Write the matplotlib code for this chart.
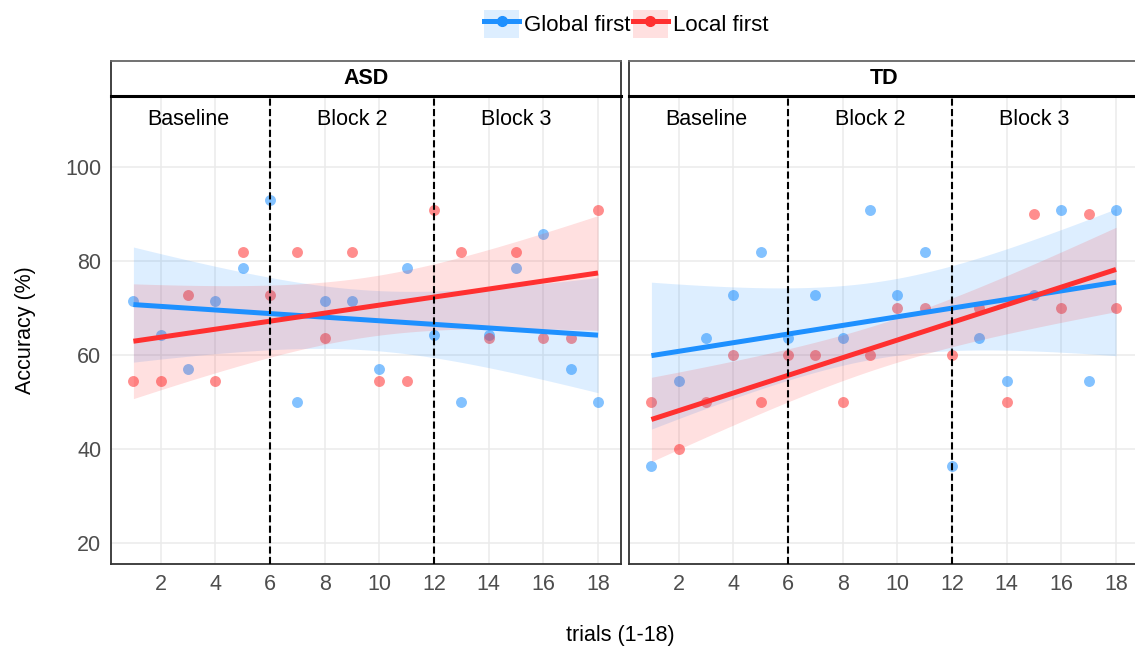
import numpy as np
import matplotlib
matplotlib.use("Agg")
import matplotlib.pyplot as plt
from matplotlib.patches import Patch
from matplotlib.lines import Line2D
from matplotlib.legend_handler import HandlerTuple

plt.rcParams['font.family'] = ['Liberation Sans', 'DejaVu Sans']

trials = list(range(1, 19))
panels = ["ASD", "TD"]
groups = ["Global first", "Local first"]
asd_global = [71.4, 64.3, 57.1, 71.4, 78.6, 92.9, 50.0, 71.4, 71.4,
              57.1, 78.6, 64.3, 50.0, 64.3, 78.6, 85.7, 57.1, 50.0]
asd_local = [54.5, 54.5, 72.7, 54.5, 81.8, 72.7, 81.8, 63.6, 81.8,
             54.5, 54.5, 90.9, 81.8, 63.6, 81.8, 63.6, 63.6, 90.9]
td_global = [36.4, 54.5, 63.6, 72.7, 81.8, 63.6, 72.7, 63.6, 90.9,
             72.7, 81.8, 36.4, 63.6, 54.5, 72.7, 90.9, 54.5, 90.9]
td_local = [50, 40, 50, 60, 50, 60, 60, 50, 60,
            70, 70, 60, 70, 50, 90, 70, 90, 70]
block_bounds = [6, 12]
block_labels = ["Baseline", "Block 2", "Block 3"]
block_label_x = [3, 9, 15]
yticks = [20, 40, 60, 80, 100]
xticks = [2, 4, 6, 8, 10, 12, 14, 16, 18]

data = {"ASD": [asd_global, asd_local], "TD": [td_global, td_local]}
line_colors = ["#1E90FF", "#FF3030"]
T975_DF16 = 2.1199  # t quantile for 95% CI with n-2 = 16 df

W, H = 1135, 649
fig = plt.figure(figsize=(W / 100, H / 100), dpi=100)

def fx(px):
    return px / W

def fy(py):
    return 1 - py / H

panel_left = [111, 629]
panel_w = 510
top_px, bot_px = 96, 564
strip_top = 61

xlim = (0.18, 18.84)
ylim = (15.5, 115.1)

for i, name in enumerate(panels):
    ax = fig.add_axes([fx(panel_left[i]), fy(bot_px), panel_w / W, (bot_px - top_px) / H])
    ax.set_xlim(*xlim)
    ax.set_ylim(*ylim)
    ax.set_xticks(xticks)
    ax.set_yticks(yticks)
    ax.grid(True, color="#EBEBEB", lw=1.1)
    ax.set_axisbelow(True)
    ax.tick_params(length=0, labelsize=15.5, colors="#4D4D4D", pad=7)
    if i == 1:
        ax.set_yticklabels([])
    for s in ["left", "bottom", "right"]:
        ax.spines[s].set_color("#333333")
        ax.spines[s].set_linewidth(1.3)
    ax.spines["top"].set_visible(False)

    x = np.array(trials, dtype=float)
    # points
    for g, vals in enumerate(data[name]):
        ax.scatter(x, vals, s=62, color=line_colors[g], alpha=0.55, lw=0, zorder=2)
    # fits
    xs = np.linspace(1, 18, 80)
    fits = []
    for g, vals in enumerate(data[name]):
        y = np.array(vals, dtype=float)
        n = len(x)
        b, a = np.polyfit(x, y, 1)
        resid = y - (a + b * x)
        s = np.sqrt(np.sum(resid ** 2) / (n - 2))
        sxx = np.sum((x - x.mean()) ** 2)
        yhat = a + b * xs
        se = s * np.sqrt(1 / n + (xs - x.mean()) ** 2 / sxx)
        ax.fill_between(xs, yhat - T975_DF16 * se, yhat + T975_DF16 * se,
                        color=line_colors[g], alpha=0.15, lw=0, zorder=3)
        fits.append(yhat)
    for g, yhat in enumerate(fits):
        ax.plot(xs, yhat, color=line_colors[g], lw=3.6, zorder=4, solid_capstyle="butt")
    for b in block_bounds:
        ax.axvline(b, color="black", lw=1.5, ls=(0, (3.4, 1.6)), zorder=5)
    for lx, lab in zip(block_label_x, block_labels):
        ax.text(lx, 110, lab, ha="center", va="center", fontsize=15.5, color="black", zorder=6)

    # strip
    sax = fig.add_axes([fx(panel_left[i]), fy(top_px), panel_w / W, (top_px - strip_top) / H])
    sax.set_xticks([])
    sax.set_yticks([])
    sax.set_facecolor("white")
    for s in ["left", "right"]:
        sax.spines[s].set_color("#333333")
        sax.spines[s].set_linewidth(1.3)
    sax.spines["top"].set_color("#666666")
    sax.spines["top"].set_linewidth(1.3)
    sax.spines["bottom"].set_color("black")
    sax.spines["bottom"].set_linewidth(2.2)
    sax.text(0.5, 0.5, name, ha="center", va="center", fontsize=15.5,
             fontweight="bold", transform=sax.transAxes)

fig.text(fx(620), fy(635), "trials (1-18)", ha="center", va="center", fontsize=15.5)
fig.text(fx(25), fy(330), "Accuracy (%)", ha="center", va="center", fontsize=15.5, rotation=90)

handles = []
for g in range(2):
    p = Patch(facecolor=line_colors[g], alpha=0.15, edgecolor="none")
    l = Line2D([], [], color=line_colors[g], lw=3.6, marker="o", markersize=7)
    handles.append((p, l))
leg = fig.legend(handles, groups, loc="center", bbox_to_anchor=(fx(626), fy(24)),
                 ncol=2, frameon=False, fontsize=16, handlelength=1.6, handleheight=1.5,
                 handletextpad=0.2, columnspacing=0.1,
                 handler_map={tuple: HandlerTuple(ndivide=1, pad=0)})

fig.savefig("out.png", dpi=100)
